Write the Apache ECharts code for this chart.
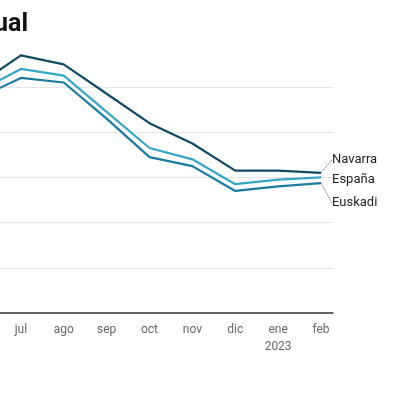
<!DOCTYPE html>
<html>
<head>
<meta charset="utf-8">
<script src="https://cdn.jsdelivr.net/npm/echarts@6/dist/echarts.min.js"></script>
<style>
  html, body { margin: 0; padding: 0; background: #fff; }
  #chart { width: 400px; height: 400px; }
</style>
</head>
<body>
<div id="chart"></div>
<script>
// meses (jun 2022 - feb 2023), tasa anual del IPC en %
const months = ['jun', 'jul', 'ago', 'sep', 'oct', 'nov', 'dic', 'ene', 'feb'];
const navarra = [10.1, 11.4, 11.0, 9.7, 8.4, 7.5, 6.3, 6.3, 6.2];
const espana = [9.8, 10.8, 10.5, 8.9, 7.3, 6.8, 5.7, 5.9, 6.0];
const euskadi = [9.5, 10.4, 10.2, 8.6, 6.9, 6.5, 5.4, 5.6, 5.75];
const yTicks = [0, 2, 4, 6, 8, 10];

function makeSeries(name, values, color, dy, guide) {
  const last = values.length - 1;
  return {
    name: name,
    type: 'line',
    clip: false,
    symbol: 'circle',
    symbolSize: 0,
    showSymbol: true,
    lineStyle: { width: 2.2, color: color },
    itemStyle: { color: color },
    data: values.map((v, i) => i === last
      ? { value: [i, v], label: { show: true } }
      : [i, v]),
    label: {
      show: false,
      position: 'right',
      distance: 11,
      formatter: name,
      color: '#222',
      fontSize: 13,
      fontFamily: 'Roboto'
    },
    labelLine: {
      show: guide,
      lineStyle: { color: '#555', width: 1, type: 'dotted' }
    },
    labelLayout: { dy: dy },
    emphasis: { disabled: true }
  };
}

const chart = echarts.init(document.getElementById('chart'));
chart.setOption({
  animation: false,
  title: {
    text: 'Inflación interanual',
    right: 372,
    top: 12,
    padding: 0,
    textStyle: { fontSize: 25, fontWeight: 'bold', color: '#111', fontFamily: 'Roboto' }
  },
  grid: { left: -22, right: 67, top: 87, bottom: 87, outerBoundsMode: 'none', containLabel: false },
  xAxis: {
    type: 'value',
    min: 0,
    max: 8.28,
    interval: 1,
    axisLine: { show: true, onZero: false, lineStyle: { color: '#333', width: 1.5 } },
    axisTick: { show: false },
    splitLine: { show: false },
    axisLabel: {
      color: '#666',
      fontSize: 12,
      fontFamily: 'Roboto',
      margin: 8,
      lineHeight: 17,
      formatter: v => {
        const m = months[v];
        if (!m) return '';
        return m === 'ene' ? 'ene\n2023' : m;
      }
    }
  },
  yAxis: {
    type: 'value',
    min: yTicks[0],
    max: yTicks[yTicks.length - 1],
    interval: 2,
    axisLine: { show: false },
    axisTick: { show: false },
    axisLabel: { show: false },
    splitLine: { lineStyle: { color: '#e6e6e6', width: 1 } }
  },
  series: [
    makeSeries('Navarra', navarra, '#124a66', -13, true),
    makeSeries('España', espana, '#34a7c6', 2, false),
    makeSeries('Euskadi', euskadi, '#1a7aa0', 20, true)
  ]
});
</script>
</body>
</html>
